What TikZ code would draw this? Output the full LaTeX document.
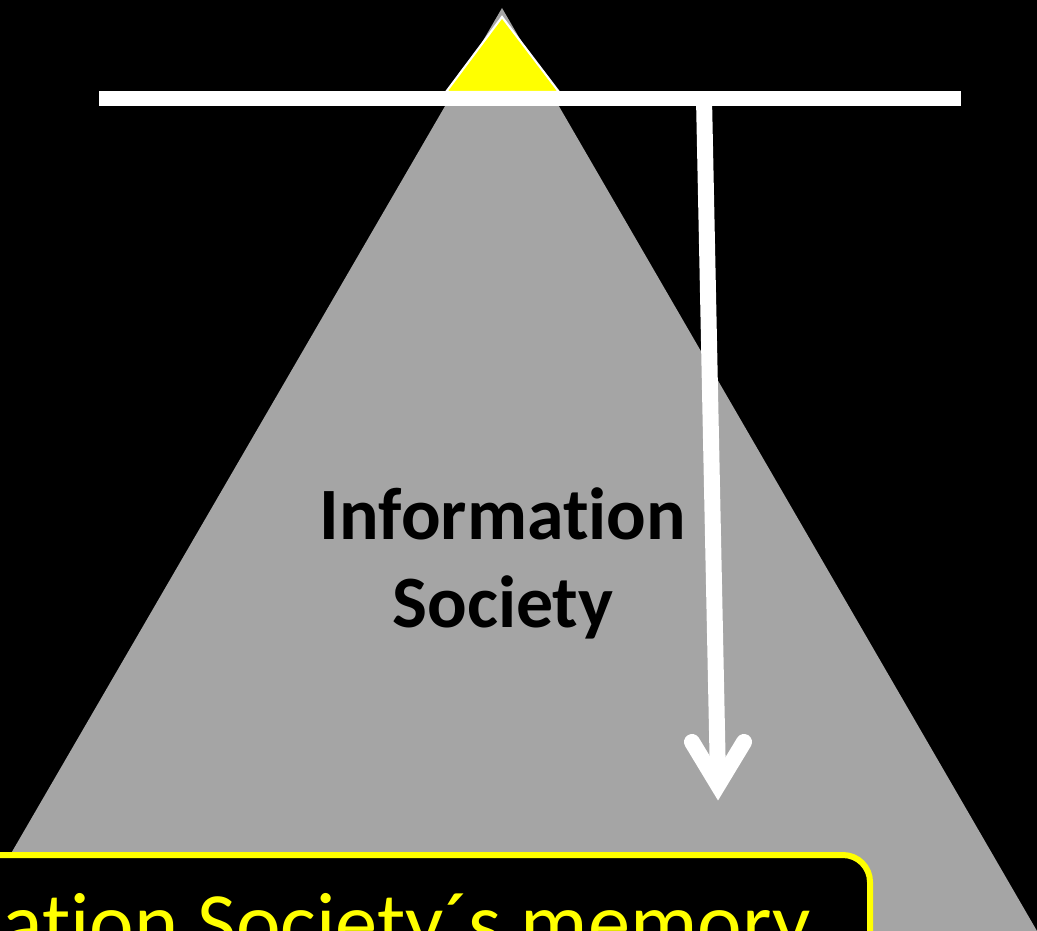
\documentclass[tikz,border=0pt]{standalone}
\usepackage{fontspec}
\setmainfont{Carlito}[Ligatures=NoCommon]
\definecolor{trigray}{RGB}{165,165,165}
\definecolor{yel}{RGB}{255,255,0}
\begin{document}
\begin{tikzpicture}[x=0.01cm,y=-0.01cm,
  whitebar/.style={draw=white,line width=4.27pt},
  shaft/.style={draw=white,line width=4.55pt},
  chevron/.style={draw=white,line width=4.55pt,line cap=round,line join=miter},
  labeltext/.style={inner sep=0pt,font=\fontsize{21pt}{25pt}\selectfont\bfseries,text=black},
  memtext/.style={inner sep=0pt,font=\fontsize{24pt}{29pt}\selectfont,text=yel},
  membox/.style={draw=yel,line width=1.71pt,fill=black,rounded corners=0.27cm}]
\useasboundingbox (0,0) rectangle (1037,931);
\fill[black] (0,0) rectangle (1037,931);
\clip (0,0) rectangle (1037,931);
% gray triangle
\coordinate (apex) at (502,8);
\coordinate (bl) at (-34,931);
\coordinate (br) at (1037,931);
\fill[trigray] (apex) -- (br) -- (bl) -- cycle;
% yellow triangle
\coordinate (yapex) at (502,17);
\coordinate (yl) at (446,92);
\coordinate (yr) at (559,92);
\filldraw[fill=yel,draw=white,line width=0.6pt,line join=miter] (yapex) -- (yr) -- (yl) -- cycle;
% bar
\coordinate (barL) at (99,98.5);
\coordinate (barR) at (961,98.5);
\draw[whitebar] (barL) -- (barR);
% arrow
\coordinate (sTop) at (704,98.5);
\coordinate (sEnd) at (718,780);
\coordinate (cL) at (692,742);
\coordinate (cTip) at (718,785);
\coordinate (cR) at (744,742);
\draw[shaft] (sTop) -- (sEnd);
\draw[chevron] (cL) -- (cTip) -- (cR);
% label
\node[labeltext,anchor=base] (info) at (503,539) {Information};
\node[labeltext,anchor=base] (soc) at (503,627) {Society};
% memory box
\draw[membox] (-60,855) rectangle (870,1010);
\node[memtext,anchor=base east] (mem) at (811,951) {ation Society´s memory};
\end{tikzpicture}
\end{document}
